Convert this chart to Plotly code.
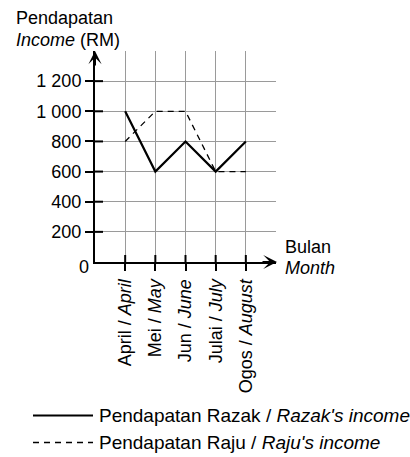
import plotly.graph_objects as go

# Monthly income data (RM)
months = ["April / <i>April</i>", "Mei / <i>May</i>", "Jun / <i>June</i>",
          "Julai / <i>July</i>", "Ogos / <i>August</i>"]
month_pos = [0, 1, 2, 3, 4]
razak_income = [1000, 600, 800, 600, 800]
raju_income = [800, 1000, 1000, 600, 600]
y_ticks = [200, 400, 600, 800, 1000, 1200]
y_tick_text = ["200", "400", "600", "800", "1 000", "1 200"]
legend_names = ["Pendapatan Razak / <i>Razak's income</i>",
                "Pendapatan Raju / <i>Raju's income</i>"]

FONT = "Liberation Sans, Arial, sans-serif"
GRID = "#9a9a9a"
SOLID = dict(color="black", width=2.2)
DASHED = dict(color="black", width=1.3, dash="6px,5px")
TICK = dict(color="black", width=2)

# plot area in pixels: left 95, width 181, bottom edge at 262, height 211
L, W, B, H = 95, 181, 262, 211


def px(x):
    return (x - L) / W


def py(y):
    return (B - y) / H


fig = go.Figure()
fig.add_trace(go.Scatter(
    x=month_pos, y=razak_income, mode="lines", line=SOLID,
    name=legend_names[0], showlegend=False,
))
fig.add_trace(go.Scatter(
    x=month_pos, y=raju_income, mode="lines", line=DASHED,
    name=legend_names[1], showlegend=False,
))

xr = [-1, 5]
yr = [0, 1400]

fig.update_layout(
    width=410, height=457,
    margin=dict(l=L, r=410 - L - W, t=B - H, b=457 - B, autoexpand=False),
    paper_bgcolor="white", plot_bgcolor="white",
    font=dict(family=FONT, size=18, color="black"),
    showlegend=False,
    xaxis=dict(
        range=xr, tickmode="array", tickvals=month_pos, ticktext=months,
        tickangle=-90, ticks="outside", ticklen=7, tickwidth=2, tickcolor="black",
        showline=True, linecolor="black", linewidth=2,
        showgrid=False, zeroline=False, ticklabelstandoff=1,
        minor=dict(tick0=-1, dtick=1, showgrid=True, gridcolor=GRID, gridwidth=1, ticks=""),
    ),
    yaxis=dict(
        range=yr, tickmode="array", tickvals=y_ticks, ticktext=y_tick_text,
        ticks="outside", ticklen=8, tickwidth=2, tickcolor="black",
        showline=True, linecolor="black", linewidth=2,
        showgrid=False, zeroline=False,
        minor=dict(tick0=0, dtick=200, showgrid=True, gridcolor=GRID, gridwidth=1, ticks=""),
    ),
)

# Inner half of the crossing tick marks on both axes
for v in month_pos:
    fig.add_shape(type="line", xref="x", yref="paper", ysizemode="pixel",
                  yanchor=0, x0=v, x1=v, y0=0, y1=7, line=TICK, layer="above")
for v in y_ticks:
    fig.add_shape(type="line", xref="paper", yref="y", xsizemode="pixel",
                  xanchor=0, x0=0, x1=8, y0=v, y1=v, line=TICK, layer="above")

# Axis arrowheads
fig.add_annotation(xref="paper", yref="paper", x=0, y=1, ax=0, ay=16,
                   text="", showarrow=True, arrowhead=3, arrowsize=1.1,
                   arrowwidth=2, arrowcolor="black", standoff=0)
fig.add_annotation(xref="paper", yref="paper", x=px(277), y=0, ax=-16, ay=0,
                   text="", showarrow=True, arrowhead=3, arrowsize=1.15,
                   arrowwidth=2, arrowcolor="black", standoff=0)

# Axis titles and origin label
fig.add_annotation(xref="paper", yref="paper", x=px(14), y=py(18),
                   xanchor="left", yanchor="middle", showarrow=False,
                   text="Pendapatan")
fig.add_annotation(xref="paper", yref="paper", x=px(14), y=py(40),
                   xanchor="left", yanchor="middle", showarrow=False,
                   text="<i>Income</i> (RM)")
fig.add_annotation(xref="paper", yref="paper", x=px(283), y=py(247),
                   xanchor="left", yanchor="middle", showarrow=False,
                   text="Bulan")
fig.add_annotation(xref="paper", yref="paper", x=px(283), y=py(268),
                   xanchor="left", yanchor="middle", showarrow=False,
                   text="<i>Month</i>")
fig.add_annotation(xref="paper", yref="paper", x=px(91), y=py(267),
                   xanchor="right", yanchor="middle", showarrow=False,
                   text="0")

# Legend key below the chart
for row_y, style, name in [(415.5, SOLID, legend_names[0]),
                           (442.5, DASHED, legend_names[1])]:
    fig.add_shape(type="line", xref="paper", yref="paper",
                  x0=px(33), x1=px(93), y0=py(row_y), y1=py(row_y), line=style)
    fig.add_annotation(xref="paper", yref="paper", x=px(97), y=py(row_y),
                       xanchor="left", yanchor="middle", showarrow=False,
                       text=name, font=dict(size=19))

fig.write_html("out.html")
